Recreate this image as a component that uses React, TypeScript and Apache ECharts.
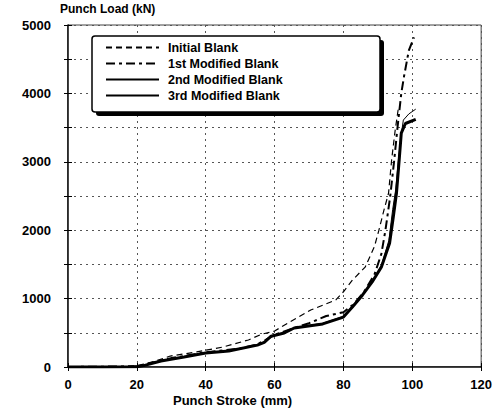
import React, { useEffect, useRef } from "react";
import * as echarts from "echarts";

const seriesNames = ["Initial Blank", "1st Modified Blank", "2nd Modified Blank", "3rd Modified Blank"];

const initialBlank: number[][] = [
  [0, 0], [15, 5], [20, 20], [25, 80], [29.7, 160], [37.4, 220], [45, 292], [52.4, 395],
  [56.3, 480], [60, 526], [62.8, 610], [70.5, 833], [77.8, 980], [80, 1100], [82.6, 1270],
  [86.3, 1460], [89, 1760], [90.3, 2000], [91.8, 2300], [93.1, 2540], [94, 3030], [95, 3450], [96, 3800],
];

const firstModified: number[][] = [
  [0, 0], [20, 10], [25, 70], [30, 130], [40, 215], [50, 270], [55, 330], [60, 470],
  [65, 560], [70, 640], [75, 745], [80, 800], [83, 920], [86, 1100], [89, 1350], [91, 1650],
  [92.2, 2000], [93.6, 2500], [94.7, 3000], [95.7, 3500], [96.8, 4000], [97.6, 4250],
  [99, 4630], [100.5, 4820],
];

const secondModified: number[][] = [
  [0, 0], [10, 0], [20, 8], [22, 25], [27, 92], [33.7, 150], [40, 210], [46.7, 240],
  [55, 325], [57, 370], [59, 455], [62.8, 505], [65.7, 575], [74, 640], [80, 740],
  [82.6, 890], [85.5, 1060], [88.3, 1250], [91, 1480], [93.2, 1850], [94.3, 2300],
  [95.2, 2600], [96, 3050], [96.8, 3400], [97.4, 3610], [99, 3700], [101, 3770],
];

const thirdModified: number[][] = [
  [0, 0], [10, 0], [20, 5], [22, 20], [27, 88], [33.7, 146], [40, 205], [46.7, 234],
  [55, 320], [57, 360], [59, 450], [62.8, 497], [65.7, 570], [74, 630], [80, 730],
  [82.6, 877], [85.5, 1050], [88.3, 1240], [91, 1460], [93.4, 1810], [94.5, 2200],
  [95.4, 2540], [96.2, 3030], [96.8, 3420], [98, 3560], [101, 3620],
];

const yTicks = [0, 1000, 2000, 3000, 4000, 5000];
const xTicks = [0, 20, 40, 60, 80, 100, 120];

const FONT = "'Liberation Sans', Arial, sans-serif";

export default function App() {
  const ref = useRef<HTMLDivElement>(null);
  useEffect(() => {
    if (!ref.current) return;
    const chart = echarts.init(ref.current, null, { renderer: "svg" });
    const gridLine = { show: true, lineStyle: { color: "#555", type: [2, 4] as any, width: 1 } };
    const lineSeries = (name: string, data: number[][], width: number, type: any) => ({
      name, type: "line", data, symbol: "none", z: 3,
      color: "#000",
      itemStyle: { color: "#000" },
      lineStyle: { color: "#000", width, type },
    });
    chart.setOption({
      animation: false,
      backgroundColor: "#fff",
      color: ["#000"],
      grid: { left: 68, right: 3, top: 25, bottom: 45, show: true, borderColor: "#444", borderWidth: 1 },
      xAxis: [
        {
          type: "value", min: 0, max: 120, interval: 20,
          axisLine: { show: true, lineStyle: { color: "#000", width: 1.5 } },
          axisTick: { show: true, inside: true, length: 4, lineStyle: { color: "#000" } },
          axisLabel: {
            margin: 11, color: "#000", fontFamily: FONT, fontWeight: "bold", fontSize: 13,
            formatter: (v: number) => (xTicks.includes(v) ? String(v) : ""),
          },
          splitLine: gridLine,
        },
        {
          type: "value", min: 0, max: 120, interval: 20, position: "top",
          axisLine: { show: true, lineStyle: { color: "#444", width: 1 } },
          axisTick: { show: true, inside: true, length: 4, lineStyle: { color: "#000" } },
          axisLabel: { show: false }, splitLine: { show: false },
        },
      ],
      yAxis: [
        {
          type: "value", min: 0, max: 5000, interval: 500,
          axisLine: { show: true, lineStyle: { color: "#000", width: 1.5 } },
          axisTick: { show: true, inside: true, length: 4, lineStyle: { color: "#000" } },
          axisLabel: {
            margin: 17, color: "#000", fontFamily: FONT, fontWeight: "bold", fontSize: 13,
            formatter: (v: number) => (yTicks.includes(v) ? String(v) : ""),
          },
          splitLine: gridLine,
        },
        {
          type: "value", min: 0, max: 5000, interval: 500, position: "right",
          axisLine: { show: true, lineStyle: { color: "#444", width: 1 } },
          axisTick: { show: true, inside: true, length: 4, lineStyle: { color: "#000" } },
          axisLabel: { show: false }, splitLine: { show: false },
        },
      ],
      legend: {
        orient: "vertical",
        left: 105, top: 41,
        itemWidth: 53, itemHeight: 14, itemGap: 3,
        padding: 0,
        z: 10,
        data: seriesNames,
        itemStyle: { opacity: 0 },
        textStyle: { color: "#000", fontFamily: FONT, fontWeight: "bold", fontSize: 12.5, padding: [0, 0, 0, 4] },
      },
      graphic: [
        { type: "rect", z: 5, shape: { x: 96, y: 40, width: 288, height: 76, r: 3 }, style: { fill: "#000" } },
        { type: "rect", z: 6, shape: { x: 92, y: 36, width: 288, height: 76, r: 3 }, style: { fill: "#fff", stroke: "#000", lineWidth: 1.5 } },
        { type: "text", left: 60, top: 3, style: { text: "Punch Load (kN)", font: `bold 12px ${FONT}`, fill: "#000" } },
        { type: "text", left: 173, top: 394, style: { text: "Punch Stroke (mm)", font: `bold 13px ${FONT}`, fill: "#000" } },
      ],
      series: [
        lineSeries(seriesNames[0], initialBlank, 1.2, [6, 4]),
        lineSeries(seriesNames[1], firstModified, 2, [9, 4, 3, 4]),
        lineSeries(seriesNames[2], secondModified, 1, "solid"),
        lineSeries(seriesNames[3], thirdModified, 3, "solid"),
      ],
    });
    return () => chart.dispose();
  }, []);
  return (
    <div
      ref={ref}
      style={{ position: "fixed", left: 0, top: 0, width: 495, height: 412, background: "#fff" }}
    />
  );
}
